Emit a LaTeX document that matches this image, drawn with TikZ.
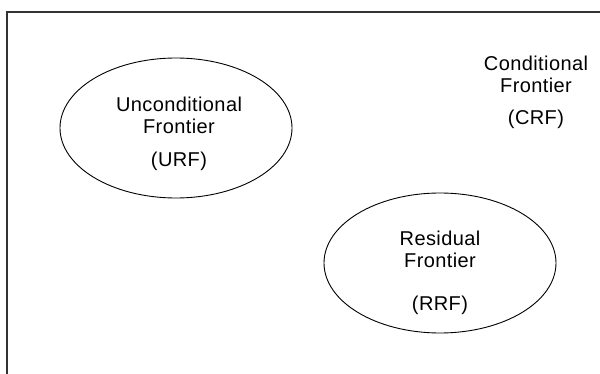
\documentclass[tikz,border=0pt]{standalone}
\usepackage{fontspec}
\setmainfont{Liberation Sans}[LetterSpace=2]
\usetikzlibrary{shapes.geometric}

\begin{document}
\begin{tikzpicture}[x=0.5pt,y=-0.5pt,
  frontier/.style={draw, ellipse, line width=0.45pt, minimum width=116pt, minimum height=70pt, inner sep=0pt},
  lbl/.style={font=\fontsize{10}{12}\selectfont, inner sep=0pt}]
\useasboundingbox (0,0) rectangle (600,374);

%% frame
\coordinate (tr) at (600,12);
\coordinate (tl) at (7,12);
\coordinate (bl) at (7,374);
\draw[line width=0.8pt, black!80] (tr) -- (tl) -- (bl);

%% ellipses
\node[frontier] (urf) at (176,128) {};   %% unconditional
\node[frontier] (rrf) at (440,263) {};   %% residual

%% labels
\node[lbl] (urfa) at (179,104) {Unconditional};
\node[lbl] (urfb) at (179,126) {Frontier};
\node[lbl] (urfc) at (179,161) {(URF)};

\node[lbl] (crfa) at (536,63) {Conditional};
\node[lbl] (crfb) at (536,85) {Frontier};
\node[lbl] (crfc) at (536,119) {(CRF)};

\node[lbl] (rrfa) at (440,238) {Residual};
\node[lbl] (rrfb) at (440,260) {Frontier};
\node[lbl] (rrfc) at (440,305) {(RRF)};
\end{tikzpicture}
\end{document}
